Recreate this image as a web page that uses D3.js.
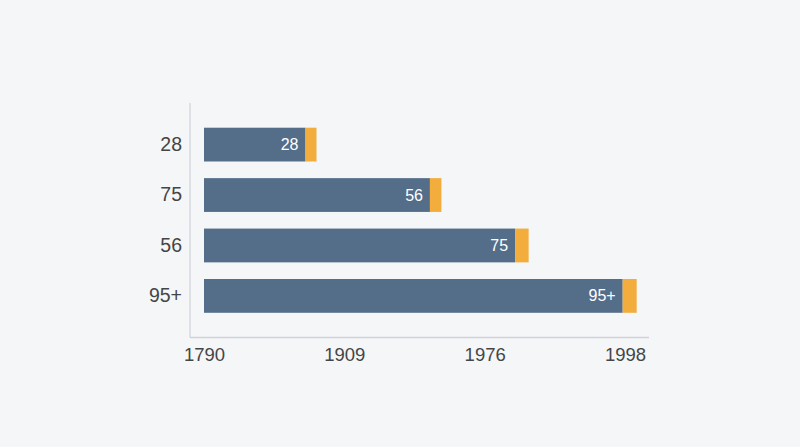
<!DOCTYPE html>
<html>
<head>
<meta charset="utf-8">
<script src="https://cdn.jsdelivr.net/npm/d3@7"></script>
<style>
  html, body { margin: 0; padding: 0; background: #f4f6f8; }
  svg { display: block; font-family: "Liberation Sans", Arial, sans-serif; }
</style>
</head>
<body>
<div id="chart"></div>
<script>
// Row labels on the left axis, top to bottom
const rowLabels = ["28", "75", "56", "95+"];
// Labels printed inside each bar
const barLabels = ["28", "56", "75", "95+"];
// Main (blue) segment lengths, in axis units
const mainValues = [21.7, 48.3, 66.5, 89.5];
// Small (orange) cap segment lengths, in axis units
const capValues = [2.35, 2.45, 2.9, 3.0];
// Bottom axis ticks and their printed labels
const tickValues = [0, 30, 60, 90];
const tickLabels = ["1790", "1909", "1976", "1998"];

const width = 800, height = 447;
const axisLeft = 190, axisTop = 103, axisBottom = 337.5, axisRight = 649;

const svg = d3.select("#chart")
  .append("svg")
  .attr("width", width)
  .attr("height", height);

svg.append("rect")
  .attr("width", width)
  .attr("height", height)
  .attr("fill", "#f4f6f8");

// Scales
const x = d3.scaleLinear().domain([0, 90]).range([204, 625]);
const y = d3.scaleBand()
  .domain(rowLabels)
  .range([axisTop, axisBottom])
  .paddingInner(0.33)
  .paddingOuter(0.49);

const rows = rowLabels.map((r, i) => ({
  row: r,
  label: barLabels[i],
  main: mainValues[i],
  cap: capValues[i]
}));

// Axis lines
svg.append("line")
  .attr("x1", axisLeft).attr("x2", axisLeft)
  .attr("y1", axisTop).attr("y2", axisBottom)
  .attr("stroke", "#cfd3d8").attr("stroke-width", 1.2);
svg.append("line")
  .attr("x1", axisLeft).attr("x2", axisRight)
  .attr("y1", axisBottom).attr("y2", axisBottom)
  .attr("stroke", "#cfd3d8").attr("stroke-width", 1.5);

// Bottom axis labels
const xAxis = svg.append("g")
  .attr("transform", `translate(0,${axisBottom})`)
  .call(d3.axisBottom(x)
    .tickValues(tickValues)
    .tickFormat((d, i) => tickLabels[i])
    .tickSize(0)
    .tickPadding(10));
xAxis.select(".domain").remove();
xAxis.selectAll("text")
  .attr("font-size", "18.5px")
  .attr("fill", "#454545")
  .attr("font-family", "Liberation Sans, Arial, sans-serif");

// Left axis labels
const yAxis = svg.append("g")
  .attr("transform", `translate(${axisLeft},0)`)
  .call(d3.axisLeft(y).tickSize(0).tickPadding(8));
yAxis.select(".domain").remove();
yAxis.selectAll("text")
  .attr("font-size", "19.5px")
  .attr("fill", "#454545")
  .attr("font-family", "Liberation Sans, Arial, sans-serif");

// Bars
const bars = svg.append("g").selectAll("g")
  .data(rows)
  .enter()
  .append("g");

bars.append("rect")
  .attr("x", x(0))
  .attr("y", d => y(d.row))
  .attr("width", d => x(d.main) - x(0))
  .attr("height", y.bandwidth())
  .attr("fill", "#546e8a");

bars.append("rect")
  .attr("x", d => x(d.main))
  .attr("y", d => y(d.row))
  .attr("width", d => x(d.main + d.cap) - x(d.main))
  .attr("height", y.bandwidth())
  .attr("fill", "#f2ad3c");

bars.append("text")
  .attr("x", d => x(d.main) - 7)
  .attr("y", d => y(d.row) + y.bandwidth() / 2)
  .attr("dy", "0.35em")
  .attr("text-anchor", "end")
  .attr("font-size", "16px")
  .attr("fill", "#ffffff")
  .text(d => d.label);
</script>
</body>
</html>
